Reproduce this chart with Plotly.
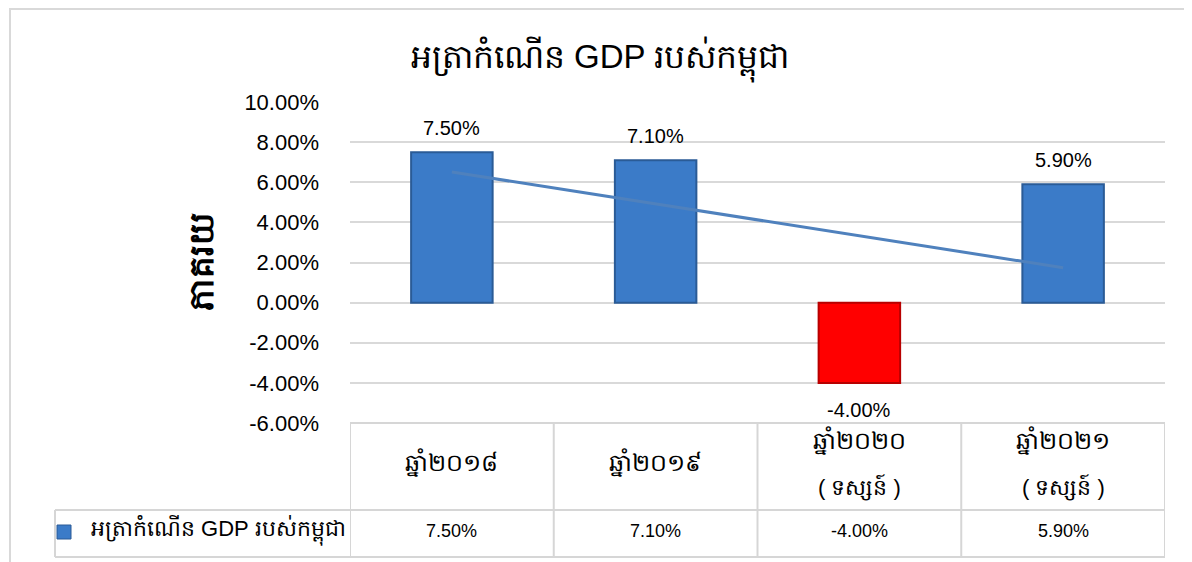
import numpy as np
import plotly.graph_objects as go

title = "អត្រាកំណើន GDP របស់កម្ពុជា"
series_name = "អត្រាកំណើន GDP របស់កម្ពុជា"
y_title = "ភាគរយ"
years = ["ឆ្នាំ២០១៨", "ឆ្នាំ២០១៩", "ឆ្នាំ២០២០", "ឆ្នាំ២០២១"]
notes = ["", "", "( ទស្សន៍ )", "( ទស្សន៍ )"]
values = [7.5, 7.1, -4.0, 5.9]
bar_colors = ["#3b7bc8", "#3b7bc8", "#ff0000", "#3b7bc8"]
bar_lines = ["#2a5b96", "#2a5b96", "#b80000", "#2a5b96"]
y_ticks = [-6, -4, -2, 0, 2, 4, 6, 8, 10]

# the page puts the figure 8px in from the top-left corner
OFF = 8
W, H = 1192 - OFF, 562 - OFF
FONT = "Liberation Sans, Noto Sans, DejaVu Sans, sans-serif"


def px_x(x):
    return (x - OFF) / W


def px_y(y):
    return 1 - (y - OFF) / H


def note_text(x, y, text, size, xref="paper", xanchor="center"):
    fig.add_annotation(x=x, xref=xref, y=y, yref="paper", text=text, showarrow=False,
                       xanchor=xanchor, yanchor="middle", font=dict(size=size))


xs = list(range(len(values)))
labels = [f"{v:.2f}%" for v in values]

# linear trendline through the bars
slope, icpt = np.polyfit(xs, values, 1)
trend = [slope * x + icpt for x in xs]

fig = go.Figure()
fig.add_trace(go.Bar(
    x=xs, y=values, width=0.4,
    marker=dict(color=bar_colors, line=dict(color=bar_lines, width=2)),
    showlegend=False,
))
fig.add_trace(go.Scatter(
    x=xs, y=trend, mode="lines",
    line=dict(color="#4f81bd", width=3),
    showlegend=False, hoverinfo="skip",
))

# value labels, kept a little away from the bar ends
for x, v, lab in zip(xs, values, labels):
    fig.add_annotation(x=x, y=v, text=lab, showarrow=False, yanchor="middle",
                       yshift=24 if v >= 0 else -27,
                       font=dict(size=20, color="#000000"))

fig.update_layout(
    width=W, height=H,
    margin=dict(l=0, r=0, t=0, b=0),
    paper_bgcolor="white", plot_bgcolor="white",
    font=dict(family=FONT, color="#000000"),
    title=dict(text=title, x=px_x(600), xanchor="center", y=px_y(56), yanchor="middle",
               font=dict(size=33, color="#000000"), automargin=False),
)
fig.update_xaxes(
    domain=[px_x(350), px_x(1165)], range=[-0.5, 3.5],
    showticklabels=False, showgrid=False, zeroline=False, showline=False,
)
fig.update_yaxes(
    domain=[px_y(423), px_y(102)], range=[-6, 10], automargin=False,
    tickvals=y_ticks, ticktext=[f"{t:.2f}%" for t in y_ticks],
    tickfont=dict(size=22), ticklabelstandoff=30,
    showgrid=True, gridcolor="#d9d9d9", gridwidth=2, zeroline=False,
)

fig.add_annotation(x=px_x(201), xref="paper", y=px_y(262), yref="paper",
                   xanchor="center", yanchor="middle",
                   text="<b>" + y_title + "</b>", textangle=-90, showarrow=False,
                   font=dict(size=34, color="#000000"))

# outer chart border
fig.add_shape(type="rect", xref="paper", yref="paper",
              x0=px_x(10), x1=px_x(1200), y0=px_y(580), y1=px_y(9),
              line=dict(color="#d9d9d9", width=2), layer="below")

# data table under the plot
line_style = dict(color="#d6d6d6", width=2)
y_top, y_mid, y_bot = px_y(423), px_y(510), px_y(557)
fig.add_shape(type="line", xref="x", yref="paper", x0=-0.5, x1=3.5, y0=y_top, y1=y_top, line=line_style)
fig.add_shape(type="line", xref="paper", yref="paper", x0=px_x(55), x1=px_x(1165), y0=y_mid, y1=y_mid, line=line_style)
fig.add_shape(type="line", xref="paper", yref="paper", x0=px_x(55), x1=px_x(1165), y0=y_bot, y1=y_bot, line=line_style)
fig.add_shape(type="line", xref="paper", yref="paper", x0=px_x(55), x1=px_x(55), y0=y_mid, y1=y_bot, line=line_style)
for b in [-0.5, 0.5, 1.5, 2.5, 3.5]:
    fig.add_shape(type="line", xref="x", yref="paper", x0=b, x1=b, y0=y_top, y1=y_bot, line=line_style)

for x, yr, note, lab in zip(xs, years, notes, labels):
    if note:
        note_text(x, px_y(440), yr, 24, xref="x")
        note_text(x, px_y(487), note, 22, xref="x")
    else:
        note_text(x, px_y(462), yr, 24, xref="x")
    note_text(x, px_y(531), lab, 18, xref="x")

# legend key in the table
fig.add_shape(type="rect", xref="paper", yref="paper",
              x0=px_x(57), x1=px_x(71), y0=px_y(539), y1=px_y(525),
              fillcolor="#3b7bc8", line=dict(color="#2a5b96", width=1))
note_text(px_x(89), px_y(530), series_name, 22, xanchor="left")

fig.write_html("out.html")
